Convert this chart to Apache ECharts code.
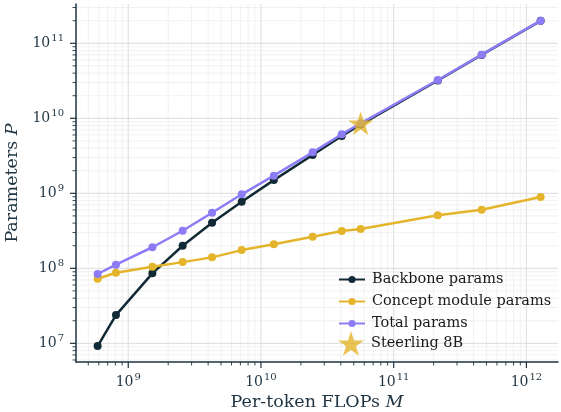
<!DOCTYPE html>
<html>
<head>
<meta charset="utf-8">
<script src="https://cdn.jsdelivr.net/npm/echarts@6/dist/echarts.min.js"></script>
<style>html,body{margin:0;padding:0;background:#fff}#c{width:561px;height:412px}</style>
</head>
<body>
<div id="c"></div>
<script>
// ---- data ----
const flops    = [5.88e8, 8.08e8, 1.52e9, 2.57e9, 4.28e9, 7.16e9, 1.25e10, 2.45e10, 4.06e10, 5.64e10, 2.15e11, 4.60e11, 1.28e12];
const backbone = [9.2e6, 2.38e7, 8.58e7, 2.0e8, 4.06e8, 7.73e8, 1.5e9, 3.24e9, 5.8e9, 8.25e9, 3.19e10, 6.99e10, 1.99e11];
const concept  = [7.26e7, 8.73e7, 1.05e8, 1.21e8, 1.4e8, 1.75e8, 2.09e8, 2.64e8, 3.14e8, 3.34e8, 5.09e8, 6.04e8, 8.93e8];
const total    = [8.4e7, 1.12e8, 1.91e8, 3.17e8, 5.51e8, 9.7e8, 1.72e9, 3.52e9, 6.12e9, 8.58e9, 3.24e10, 7.05e10, 2.0e11];
const steerling = [5.64e10, 8.58e9];

const xMajorTicks = [1e9, 1e10, 1e11, 1e12];
const yMajorTicks = [1e7, 1e8, 1e9, 1e10, 1e11];
const minorMult = [2, 3, 4, 5, 6, 7, 8, 9];
const xDecades = [1e8, 1e9, 1e10, 1e11];
const yDecades = [1e6, 1e7, 1e8, 1e9, 1e10, 1e11];

const X_MIN = 4.04e8, X_MAX = 1.73e12;
const Y_MIN = 5.64e6, Y_MAX = 3.34e11;

const FONT = 'DejaVu Serif';
const TXT = '#1f3442';
const C_BACK = '#112a36', C_CONC = '#e4b52b', C_TOT = '#8c7cf5';

// grid/tick decoration items: [x, y, kind] kind 0 xMajor,1 xMinor,2 yMajor,3 yMinor
const deco = [];
xMajorTicks.forEach(v => deco.push([v, 1e9, 0]));
xDecades.forEach(d => minorMult.forEach(m => { const v = d * m; if (v > X_MIN && v < X_MAX) deco.push([v, 1e9, 1]); }));
yMajorTicks.forEach(v => deco.push([1e10, v, 2]));
yDecades.forEach(d => minorMult.forEach(m => { const v = d * m; if (v > Y_MIN && v < Y_MAX) deco.push([1e10, v, 3]); }));

function pairs(xs, ys) { return xs.map((x, i) => [x, ys[i]]); }

const STAR = 'path://M50,0L61.2,34.55L97.55,34.55L68.17,55.9L79.39,90.45L50,69.1L20.61,90.45L31.83,55.9L2.45,34.55L38.8,34.55Z';

function fmt(v) {
  const l = Math.log10(v), e = Math.round(l);
  if (Math.abs(l - e) > 1e-6) return '';
  return '{b|10}{s|' + e + '}';
}
const rich = {
  b: { fontFamily: FONT, fontSize: 14, color: TXT },
  s: { fontFamily: FONT, fontSize: 10, color: TXT, padding: [0, 0, 10, 1] }
};
const nameStyle = { fontFamily: FONT, fontSize: 17.5, color: TXT,
  rich: { i: { fontFamily: FONT, fontStyle: 'italic', fontSize: 17.5, color: TXT } } };

const chart = echarts.init(document.getElementById('c'), null, { renderer: 'canvas' });
chart.setOption({
  animation: false,
  grid: { left: 76, right: 3, top: 4, bottom: 50, containLabel: false, outerBoundsMode: 'none' },
  xAxis: {
    type: 'log', logBase: 10, min: X_MIN, max: X_MAX,
    name: 'Per-token FLOPs {i|M}', nameLocation: 'middle', nameGap: 31,
    nameTextStyle: nameStyle,
    axisLine: { show: true, lineStyle: { color: '#1d3440', width: 1.5 } },
    axisTick: { show: false },
    splitLine: { show: false },
    minorTick: { show: false },
    axisLabel: { formatter: fmt, rich: rich, margin: 10, showMinLabel: false, showMaxLabel: false }
  },
  yAxis: {
    type: 'log', logBase: 10, min: Y_MIN, max: Y_MAX,
    name: 'Parameters {i|P}', nameLocation: 'middle', nameGap: 51, nameRotate: 90,
    nameTextStyle: nameStyle,
    axisLine: { show: true, lineStyle: { color: '#1d3440', width: 1.5 } },
    axisTick: { show: false },
    splitLine: { show: false },
    minorTick: { show: false },
    axisLabel: { formatter: fmt, rich: rich, margin: 12, showMinLabel: false, showMaxLabel: false }
  },
  legend: [
    {
      data: ['Backbone params', 'Concept module params', 'Total params'],
      orient: 'vertical', left: 333, top: 267, itemWidth: 26, itemHeight: 9, itemGap: 7,
      textStyle: { fontFamily: FONT, fontSize: 14.5, color: '#1a1a1a', padding: [0, 0, 0, 2] }
    },
    {
      data: ['Steerling 8B'],
      orient: 'vertical', left: 333, top: 326, itemWidth: 26, itemHeight: 25, itemGap: 0,
      textStyle: { fontFamily: FONT, fontSize: 14.5, color: '#1a1a1a', padding: [0, 0, 0, 2] }
    }
  ],
  series: [
    {
      type: 'custom', silent: true, z: 0, clip: false,
      data: deco,
      renderItem: function (params, api) {
        const cs = params.coordSys;
        const kind = api.value(2);
        const children = [];
        if (kind === 0 || kind === 1) {
          const x = api.coord([api.value(0), api.value(1)])[0];
          children.push({ type: 'line', shape: { x1: x, y1: cs.y, x2: x, y2: cs.y + cs.height },
            style: { stroke: kind === 0 ? '#dcdcdc' : '#eeeeee', lineWidth: kind === 0 ? 1 : 0.8 } });
          children.push({ type: 'line', shape: { x1: x, y1: cs.y + cs.height, x2: x, y2: cs.y + cs.height + (kind === 0 ? 6 : 3.5) },
            style: { stroke: '#1d3440', lineWidth: kind === 0 ? 1.2 : 0.9 } });
        } else {
          const y = api.coord([api.value(0), api.value(1)])[1];
          children.push({ type: 'line', shape: { x1: cs.x, y1: y, x2: cs.x + cs.width, y2: y },
            style: { stroke: kind === 2 ? '#dcdcdc' : '#eeeeee', lineWidth: kind === 2 ? 1 : 0.8 } });
          children.push({ type: 'line', shape: { x1: cs.x, y1: y, x2: cs.x - (kind === 2 ? 6 : 3.5), y2: y },
            style: { stroke: '#1d3440', lineWidth: kind === 2 ? 1.2 : 0.9 } });
        }
        return { type: 'group', children: children };
      }
    },
    {
      name: 'Backbone params', type: 'line', data: pairs(flops, backbone), z: 3,
      symbol: 'circle', symbolSize: 8, showSymbol: true,
      lineStyle: { color: C_BACK, width: 2.5 }, itemStyle: { color: C_BACK }
    },
    {
      name: 'Concept module params', type: 'line', data: pairs(flops, concept), z: 4,
      symbol: 'circle', symbolSize: 8,
      lineStyle: { color: C_CONC, width: 2.5 }, itemStyle: { color: C_CONC }
    },
    {
      name: 'Total params', type: 'line', data: pairs(flops, total), z: 5,
      symbol: 'circle', symbolSize: 8,
      lineStyle: { color: C_TOT, width: 2.5 }, itemStyle: { color: C_TOT }
    },
    {
      name: 'Steerling 8B', type: 'scatter', data: [steerling], z: 6,
      symbol: STAR, symbolSize: 25, symbolKeepAspect: true,
      itemStyle: { color: C_CONC }
    }
  ]
});
</script>
</body>
</html>
